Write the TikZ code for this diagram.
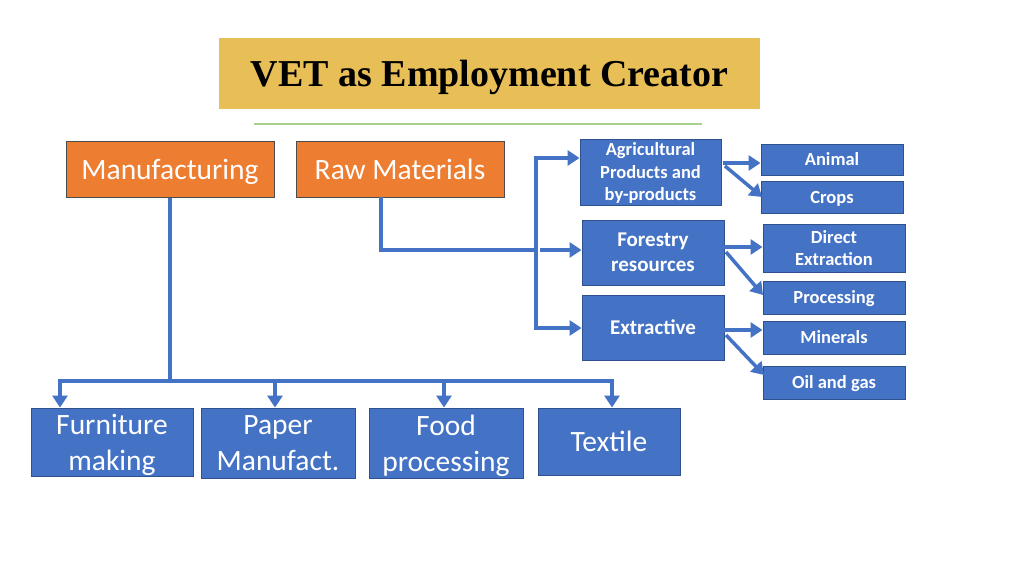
\documentclass[tikz,border=0pt]{standalone}
\usepackage{fontspec}
\setmainfont{Carlito}
\newfontfamily\titlefont{Liberation Serif}
\usetikzlibrary{arrows.meta}
\definecolor{boxblue}{HTML}{4472C4}
\definecolor{boxedge}{HTML}{2F528F}
\definecolor{boxorange}{HTML}{ED7D31}
\definecolor{titlegold}{HTML}{E8BE56}
\definecolor{linegreen}{HTML}{A9D18E}
\tikzset{
  bluebox/.style={draw=boxedge, line width=1pt, fill=boxblue, text=white, inner sep=0pt, align=center, text depth=0pt},
  orangebox/.style={draw=black!70, line width=1pt, fill=boxorange, text=white, inner sep=0pt, align=center, text depth=0pt, minimum width=208pt, minimum height=56pt, font=\fontsize{29.5}{32}\selectfont},
  smallbox/.style={bluebox, minimum width=142pt, font=\fontsize{18.5}{22.5}\selectfont\bfseries},
  midfont/.style={font=\fontsize{21}{25}\selectfont\bfseries},
  bigbox/.style={bluebox, font=\fontsize{29.5}{36}\selectfont},
  conn/.style={draw=boxblue, line width=3.5pt},
  arr/.style={conn, -{Triangle[length=12pt,width=15pt]}},
}
\begin{document}
\begin{tikzpicture}[x=1pt,y=-1pt]
\useasboundingbox (0,0) rectangle (1024,576);
% title
\node[fill=titlegold, minimum width=541pt, minimum height=71pt, inner sep=0pt, text depth=0pt,
      font=\titlefont\fontsize{38}{42}\selectfont\bfseries] (title) at (489.5,73.5) {VET as Employment Creator};
\coordinate (gl) at (254,124);
\coordinate (gr) at (702,124);
\draw[linegreen, line width=1.2pt] (gl) -- (gr);
% top nodes
\node[orangebox] (manu) at (170,169) {Manufacturing};
\node[orangebox] (raw) at (400,169) {Raw Materials};
% middle
\node[smallbox, minimum width=141pt, minimum height=66pt] (agri) at (650.5,172) {Agricultural\\Products and\\by-products};
\node[smallbox, minimum height=65pt, midfont] (forest) at (653,252.5) {Forestry\\resources};
\node[smallbox, minimum height=65pt, midfont] (extr) at (653,327.5) {Extractive};
% right
\node[smallbox, minimum height=31pt] (animal) at (832,159.5) {Animal};
\node[smallbox, minimum height=32pt] (crops) at (832,197) {Crops};
\node[smallbox, minimum height=48pt] (direct) at (834,248) {Direct\\Extraction};
\node[smallbox, minimum height=33pt] (proc) at (834,297.5) {Processing};
\node[smallbox, minimum height=33pt] (minr) at (834,337.5) {Minerals};
\node[smallbox, minimum height=33pt] (oil) at (834,382.5) {Oil and gas};
% bottom
\node[bigbox, minimum width=162pt, minimum height=68pt] (furn) at (112,442) {Furniture\\making};
\node[bigbox, minimum width=154pt, minimum height=70pt] (paper) at (278,443) {Paper\\Manufact.};
\node[bigbox, minimum width=154pt, minimum height=70pt] (food) at (446,443) {Food\\processing};
\node[bigbox, minimum width=142pt, minimum height=67pt] (textile) at (609,441.5) {Textile};
% manufacturing tree
\coordinate (mh) at (170,381);
\coordinate (b1) at (60,381);
\coordinate (b2) at (275,381);
\coordinate (b3) at (444,381);
\coordinate (b4) at (612,381);
\draw[conn] (manu.south) -- (mh);
\draw[conn, line cap=rect] (b1) -- (b4);
\draw[arr] (b1) -- (b1 |- furn.north);
\draw[arr] (b2) -- (b2 |- paper.north);
\draw[arr] (b3) -- (b3 |- food.north);
\draw[arr] (b4) -- (b4 |- textile.north);
% raw materials tree
\coordinate (r0) at (381,197);
\coordinate (r1) at (381,250);
\coordinate (r2) at (536,250);
\coordinate (vt) at (536,158);
\coordinate (vb) at (536,328);
\draw[conn] (r0) -- (r1) -- (r2);
\draw[conn, line cap=rect] (vt) -- (vb);
\coordinate (a1) at (540,158);
\coordinate (a2) at (540,250);
\coordinate (a3) at (540,328);
\draw[arr] (vt) -- (agri.west |- a1);
\draw[arr] (a2) -- (forest.west |- a2);
\draw[arr] (vb) -- (extr.west |- a3);
% right arrows
\coordinate (ag1) at (723,163);
\coordinate (ag2) at (725,166);
\coordinate (ct) at (762,197);
\draw[arr] (ag1) -- (animal.west |- ag1);
\draw[arr] (ag2) -- (ct);
\coordinate (fo1) at (724,247);
\coordinate (fo2) at (726,252);
\coordinate (pt) at (763,295);
\draw[arr] (fo1) -- (direct.west |- fo1);
\draw[arr] (fo2) -- (pt);
\coordinate (ex1) at (724,330);
\coordinate (ex2) at (726,335);
\coordinate (ot) at (764,375);
\draw[arr] (ex1) -- (minr.west |- ex1);
\draw[arr] (ex2) -- (ot);
\end{tikzpicture}
\end{document}
